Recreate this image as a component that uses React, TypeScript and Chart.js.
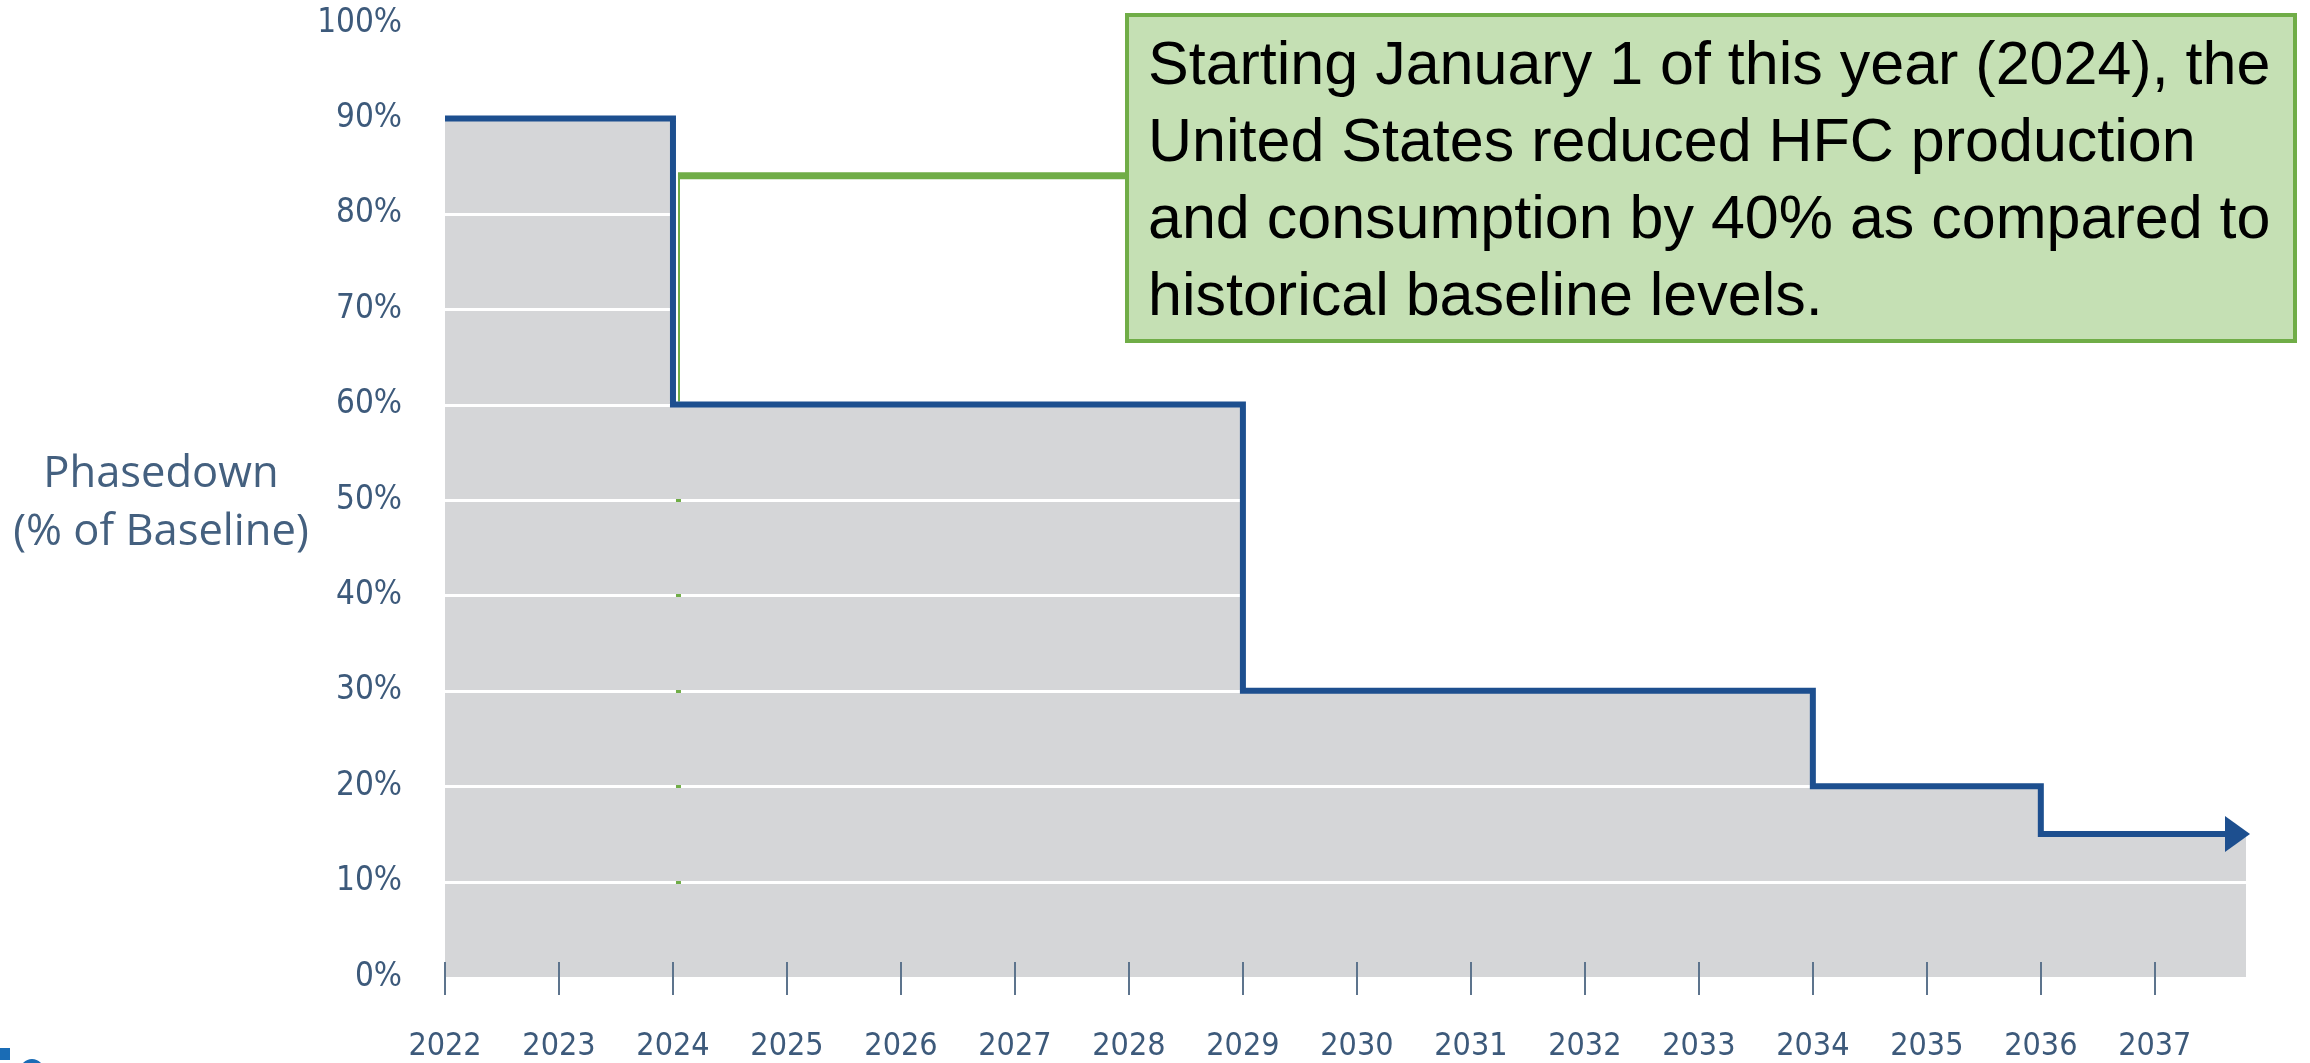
import React, { useEffect, useRef } from 'react';
import { Chart, registerables } from 'chart.js';

Chart.register(...registerables);

// Phasedown schedule: each value holds from its year until the next step year.
const stepYears = [2022, 2024, 2029, 2034, 2036, 2037.8];
const phasedownPct = [90, 60, 30, 20, 15, 15];

// Axis ticks
const tickYears = [2022, 2023, 2024, 2025, 2026, 2027, 2028, 2029, 2030, 2031, 2032, 2033, 2034, 2035, 2036, 2037];
const gridPct = [10, 20, 30, 40, 50, 60, 70, 80, 90];

// Callout leader meets the 2024 step at this level
const calloutYear = 2024;
const calloutPct = 84;
const calloutLines = [
  'Starting January 1 of this year (2024), the',
  'United States reduced HFC production',
  'and consumption by 40% as compared to',
  'historical baseline levels.',
];
const axisTitleLines = ['Phasedown', '(% of Baseline)'];

const W = 2310;
const H = 1063;
const BOX = { left: 1125, top: 13, width: 1172, height: 330 };

const BLUE = '#1d4f8f';
const GREY = '#d5d6d8';
const GREEN = '#70ad47';
const LABEL = '#3d5a7b';
const NARROW = '"Liberation Sans Narrow", "Arial Narrow", "DejaVu Sans Condensed", sans-serif';

const overlayPlugin = {
  id: 'phasedownOverlay',
  afterDatasetDraw(chart: any, args: any) {
    if (args.index !== 1) return;
    const { ctx, chartArea, scales } = chart;
    const x = scales.x;
    const y = scales.y;
    ctx.save();
    // white gridlines over the grey fill, under the step line
    ctx.strokeStyle = '#ffffff';
    ctx.lineWidth = 3;
    for (const v of gridPct) {
      const py = Math.round(y.getPixelForValue(v)) + 0.5;
      ctx.beginPath();
      ctx.moveTo(chartArea.left, py);
      ctx.lineTo(chartArea.right, py);
      ctx.stroke();
    }
    // thin leader running down the 2024 step
    const lx = x.getPixelForValue(calloutYear) + 6;
    ctx.fillStyle = GREEN;
    for (const v of gridPct) {
      if (v < 60) ctx.fillRect(lx - 3, Math.round(y.getPixelForValue(v)) - 1, 5, 3);
    }
    ctx.strokeStyle = GREEN;
    ctx.lineWidth = 2;
    ctx.beginPath();
    ctx.moveTo(lx, y.getPixelForValue(calloutPct));
    ctx.lineTo(lx, y.getPixelForValue(60) - 3);
    ctx.stroke();
    ctx.restore();
  },
  afterDatasetsDraw(chart: any) {
    const { ctx, chartArea, scales } = chart;
    const x = scales.x;
    const y = scales.y;
    ctx.save();
    // arrowhead at the end of the step line
    const meta = chart.getDatasetMeta(0);
    const last = meta.data[meta.data.length - 1];
    const tipX = last.x + 4;
    const tipY = last.y;
    ctx.fillStyle = BLUE;
    ctx.beginPath();
    ctx.moveTo(tipX, tipY);
    ctx.lineTo(tipX - 25, tipY - 18);
    ctx.lineTo(tipX - 25, tipY + 18);
    ctx.closePath();
    ctx.fill();
    // year tick marks crossing the baseline
    ctx.strokeStyle = '#5d748d';
    ctx.lineWidth = 2;
    for (const t of x.ticks) {
      const px = Math.round(x.getPixelForValue(t.value));
      ctx.beginPath();
      ctx.moveTo(px, chartArea.bottom - 15);
      ctx.lineTo(px, chartArea.bottom + 18);
      ctx.stroke();
    }
    // leader from the step to the callout box
    const lx = x.getPixelForValue(calloutYear) + 5;
    ctx.strokeStyle = GREEN;
    ctx.lineWidth = 7;
    ctx.beginPath();
    ctx.moveTo(lx, y.getPixelForValue(calloutPct));
    ctx.lineTo(BOX.left + 2, y.getPixelForValue(calloutPct));
    ctx.stroke();
    ctx.restore();
  },
};

export default function App() {
  const canvasRef = useRef<HTMLCanvasElement | null>(null);

  useEffect(() => {
    if (!canvasRef.current) return;
    const points = stepYears.map((yr, i) => ({ x: yr, y: phasedownPct[i] }));
    const chart = new Chart(canvasRef.current, {
      type: 'line',
      data: {
        datasets: [
          {
            label: 'Phasedown',
            data: points,
            stepped: true,
            borderColor: BLUE,
            borderWidth: 6,
            borderCapStyle: 'butt',
            borderJoinStyle: 'miter',
            pointRadius: 0,
            fill: false,
            order: 1,
          },
          {
            label: 'Allowance',
            data: points,
            stepped: true,
            borderColor: 'transparent',
            borderWidth: 0,
            backgroundColor: GREY,
            pointRadius: 0,
            fill: 'origin',
            order: 2,
          },
        ],
      } as any,
      options: {
        responsive: false,
        animation: false,
        layout: { padding: { top: 23, right: 64, left: 0, bottom: 0 } },
        plugins: { legend: { display: false }, tooltip: { enabled: false } },
        scales: {
          x: {
            type: 'linear',
            min: 2022,
            max: 2037.8,
            afterBuildTicks: (s: any) => {
              s.ticks = tickYears.map((v) => ({ value: v }));
            },
            afterFit: (s: any) => {
              s.height = 86;
              s.paddingLeft = 0;
              s.paddingRight = 0;
            },
            grid: { display: false, drawTicks: false },
            border: { display: false },
            ticks: {
              padding: 50,
              autoSkip: false,
              maxRotation: 0,
              color: LABEL,
              font: { family: NARROW, size: 32 },
              callback: (v: any) => String(v),
            },
          },
          y: {
            min: 0,
            max: 100,
            afterFit: (s: any) => {
              s.width = 445;
              s.paddingTop = 0;
              s.paddingBottom = 0;
            },
            grid: { display: false, drawTicks: false },
            border: { display: false },
            ticks: {
              stepSize: 10,
              padding: 43,
              color: LABEL,
              font: { family: NARROW, size: 33 },
              callback: (v: any) => v + '%',
            },
          },
        },
      } as any,
      plugins: [overlayPlugin],
    });
    return () => chart.destroy();
  }, []);

  return (
    <div style={{ position: 'fixed', left: 0, top: 0, width: W, height: H, background: '#ffffff', overflow: 'hidden' }}>
      <canvas ref={canvasRef} width={W} height={H} style={{ display: 'block', width: W, height: H }} />
      <div
        style={{
          position: 'absolute',
          left: 0,
          top: 442,
          width: 322,
          textAlign: 'center',
          fontFamily: '"Open Sans", "Liberation Sans", sans-serif',
          fontSize: 43.5,
          lineHeight: '58px',
          color: '#44607f',
          whiteSpace: 'nowrap',
        }}
      >
        {axisTitleLines.map((t) => (
          <div key={t}>{t}</div>
        ))}
      </div>
      <div
        style={{
          position: 'absolute',
          left: BOX.left,
          top: BOX.top,
          width: BOX.width,
          height: BOX.height,
          boxSizing: 'border-box',
          border: `4px solid ${GREEN}`,
          background: '#c5e0b4',
          padding: '8px 0 0 19px',
          fontFamily: '"Liberation Sans", Arial, sans-serif',
          fontSize: 61,
          lineHeight: '77px',
          color: '#000000',
          whiteSpace: 'nowrap',
        }}
      >
        {calloutLines.map((t) => (
          <div key={t}>{t}</div>
        ))}
      </div>
      <div style={{ position: 'absolute', left: 0, top: 1048, width: 10, height: 12, background: '#1a6cb5' }} />
      <div
        style={{
          position: 'absolute',
          left: 20,
          top: 1059,
          width: 24,
          height: 24,
          boxSizing: 'border-box',
          borderRadius: '50%',
          border: '5px solid #1a6cb5',
        }}
      />
    </div>
  );
}
